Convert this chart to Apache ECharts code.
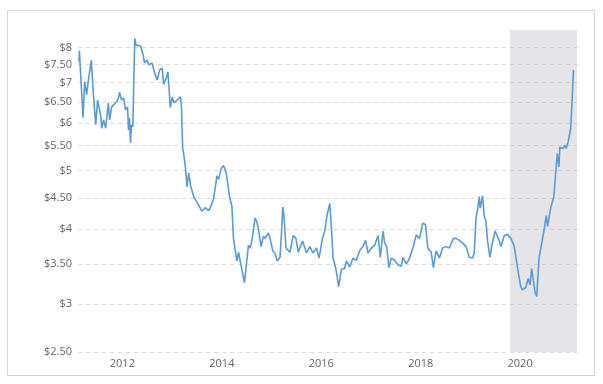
<!DOCTYPE html>
<html><head><meta charset="utf-8">
<script src="https://cdn.jsdelivr.net/npm/echarts@6/dist/echarts.min.js"></script>
<style>html,body{margin:0;padding:0;background:#fff}#c{width:603px;height:384px}</style>
</head><body><div id="c"></div>
<script>
const dates = ['2011-02-16','2011-02-19','2011-03-18','2011-03-30','2011-04-14','2011-04-23','2011-05-18','2011-05-31','2011-06-19','2011-07-03','2011-07-13','2011-07-25','2011-08-02','2011-08-16','2011-08-31','2011-09-20','2011-09-29','2011-10-14','2011-10-28','2011-11-19','2011-12-04','2011-12-11','2011-12-26',
'2012-01-10','2012-01-24','2012-02-08','2012-02-15','2012-02-22','2012-03-01','2012-03-08','2012-03-18','2012-03-25','2012-04-01','2012-04-10','2012-04-21','2012-05-13','2012-06-02','2012-06-11','2012-07-01','2012-07-13','2012-08-06','2012-08-23','2012-09-12','2012-10-01','2012-10-19','2012-10-30','2012-11-19','2012-12-01','2012-12-18',
'2013-01-02','2013-01-13','2013-02-07','2013-03-03','2013-03-10','2013-03-15','2013-03-19','2013-03-27','2013-04-08','2013-04-20','2013-05-02','2013-05-15','2013-06-08','2013-07-03','2013-07-27','2013-08-08','2013-09-01','2013-09-25','2013-10-08','2013-11-01','2013-11-26','2013-12-08','2013-12-25',
'2014-01-13','2014-02-02','2014-02-26','2014-03-16','2014-03-27','2014-04-21','2014-05-03','2014-05-15','2014-06-16','2014-07-15','2014-07-27','2014-08-09','2014-09-02','2014-09-14','2014-09-26','2014-10-16','2014-11-02','2014-11-14','2014-12-08','2014-12-21',
'2015-01-10','2015-01-26','2015-02-12','2015-03-04','2015-03-16','2015-03-24','2015-04-02','2015-04-17','2015-05-16','2015-06-09','2015-06-29','2015-07-16','2015-07-28','2015-08-17','2015-09-15','2015-10-09','2015-11-02','2015-11-27','2015-12-16',
'2016-01-10','2016-01-27','2016-02-13','2016-03-04','2016-03-16','2016-03-28','2016-04-17','2016-05-08','2016-05-28','2016-06-21','2016-07-04','2016-07-28','2016-08-21','2016-09-15','2016-10-09','2016-11-02','2016-11-22','2016-12-09',
'2017-01-03','2017-01-28','2017-02-21','2017-03-10','2017-03-30','2017-04-11','2017-04-26','2017-05-12','2017-05-30','2017-06-23','2017-07-17','2017-08-11','2017-08-23','2017-09-17','2017-10-11','2017-11-04','2017-11-29','2017-12-23',
'2018-01-16','2018-02-05','2018-02-22','2018-03-19','2018-04-04','2018-04-24','2018-05-18','2018-06-11','2018-07-06','2018-07-30','2018-08-29','2018-09-17','2018-10-12','2018-11-05','2018-11-30','2018-12-24',
'2019-01-17','2019-01-29','2019-02-11','2019-02-22','2019-03-07','2019-03-14','2019-03-31','2019-04-12','2019-04-25','2019-05-07','2019-05-24','2019-06-08','2019-07-02','2019-07-31','2019-08-13','2019-09-06','2019-09-30','2019-10-25','2019-11-18','2019-12-12','2019-12-24',
'2020-01-06','2020-01-18','2020-02-11','2020-03-01','2020-03-14','2020-03-26','2020-04-05','2020-04-19','2020-05-02','2020-05-19','2020-06-05','2020-06-24','2020-07-11','2020-07-21','2020-08-12','2020-09-05','2020-09-30','2020-10-12','2020-10-19','2020-11-10','2020-11-25','2020-12-04','2020-12-19',
'2021-01-07','2021-01-18','2021-01-27'];
const prices = [7.58,7.91,6.12,7.03,6.68,6.98,7.63,6.80,5.96,6.55,6.60,6.19,5.88,6.07,5.88,6.48,6.07,6.38,6.43,6.50,6.60,6.75,6.55,
6.60,6.31,6.38,5.84,6.12,5.56,5.96,5.91,7.07,8.29,8.08,8.11,8.05,7.78,7.55,7.63,7.49,7.55,7.29,7.07,7.35,7.40,6.96,7.13,7.29,6.36,
6.63,6.48,6.55,6.63,6.39,5.84,5.45,5.32,5.07,4.70,4.96,4.73,4.53,4.43,4.33,4.28,4.34,4.29,4.34,4.49,4.90,4.84,5.03,
5.10,4.96,4.53,4.36,3.86,3.54,3.66,3.65,3.26,3.76,3.72,3.82,4.17,4.12,4.01,3.74,3.89,3.86,3.94,3.86,
3.68,3.65,3.54,3.59,3.97,4.35,4.21,3.72,3.66,3.90,3.86,3.66,3.65,3.82,3.65,3.74,3.65,3.72,3.58,
3.86,3.97,4.22,4.41,4.01,3.58,3.44,3.21,3.43,3.44,3.54,3.46,3.58,3.55,3.68,3.74,3.83,3.65,
3.72,3.76,3.90,3.59,3.97,3.79,3.74,3.45,3.58,3.55,3.49,3.47,3.59,3.50,3.58,3.72,3.91,3.86,
4.09,4.07,3.72,3.66,3.45,3.68,3.58,3.72,3.74,3.72,3.86,3.86,3.83,3.79,3.74,3.59,
3.58,3.65,4.17,4.30,4.53,4.33,4.54,4.21,4.12,3.82,3.59,3.76,3.97,3.83,3.74,3.90,3.92,3.86,3.75,3.46,3.33,
3.21,3.17,3.20,3.31,3.23,3.44,3.32,3.15,3.09,3.58,3.76,3.97,4.21,4.04,4.33,4.53,5.34,5.07,5.47,5.44,5.51,5.44,5.58,
5.88,6.63,7.35];
const yTicks = [2.5,3,3.5,4,4.5,5,5.5,6,6.5,7,7.5,8];
const xTickYears = ['2012','2014','2016','2018','2020'];
const shadeRange = ['2019-10-19','2021-02-22'];
const xRange = ['2011-02-09','2021-02-22'];
const yRange = [2.5, 8.56];

const chart = echarts.init(document.getElementById('c'), null, {renderer:'canvas'});
const ts = s => new Date(s + 'T00:00:00Z').getTime();
chart.setOption({
  animation:false,
  backgroundColor:'#fff',
  textStyle:{fontFamily:'Open Sans, DejaVu Sans, sans-serif'},
  graphic:[{type:'rect', shape:{x:7.5,y:10.5,width:587,height:365}, style:{fill:'none', stroke:'#d4d4d4', lineWidth:1}, silent:true}],
  grid:{left:78, right:26, top:30, bottom:32, containLabel:false},
  xAxis:{type:'value', min:ts(xRange[0]), max:ts(xRange[1]), scale:true,
    axisLine:{show:false}, axisTick:{show:false, customValues:xTickYears.map(y=>ts(y+'-01-01'))}, splitLine:{show:false},
    axisLabel:{customValues:xTickYears.map(y=>ts(y+'-01-01')), formatter:v=>String(new Date(v).getUTCFullYear()),
      color:'#666', fontSize:11, margin:6, showMinLabel:true, showMaxLabel:true}},
  yAxis:{type:'log', logBase:10, min:yRange[0], max:yRange[1],
    axisLine:{show:false},
    axisTick:{show:false, customValues:yTicks},
    axisLabel:{customValues:yTicks, color:'#666', fontSize:11, margin:6,
      formatter:v=>'$'+(Math.abs(v-Math.round(v))<1e-6? String(Math.round(v)) : v.toFixed(2))},
    splitLine:{show:true, lineStyle:{color:'#dcdcdc', type:[4,4], width:1}},
    minorSplitLine:{show:false}},
  series:[{type:'line', data:dates.map((d,i)=>[ts(d), prices[i]]), showSymbol:false, symbol:'none',
    lineStyle:{color:'#5b9bd5', width:1.6}, itemStyle:{color:'#5b9bd5'},
    markArea:{silent:true, itemStyle:{color:'rgba(170,170,180,0.3)'},
      data:[[{xAxis:ts(shadeRange[0])},{xAxis:ts(shadeRange[1])}]]}}]
});
</script></body></html>
